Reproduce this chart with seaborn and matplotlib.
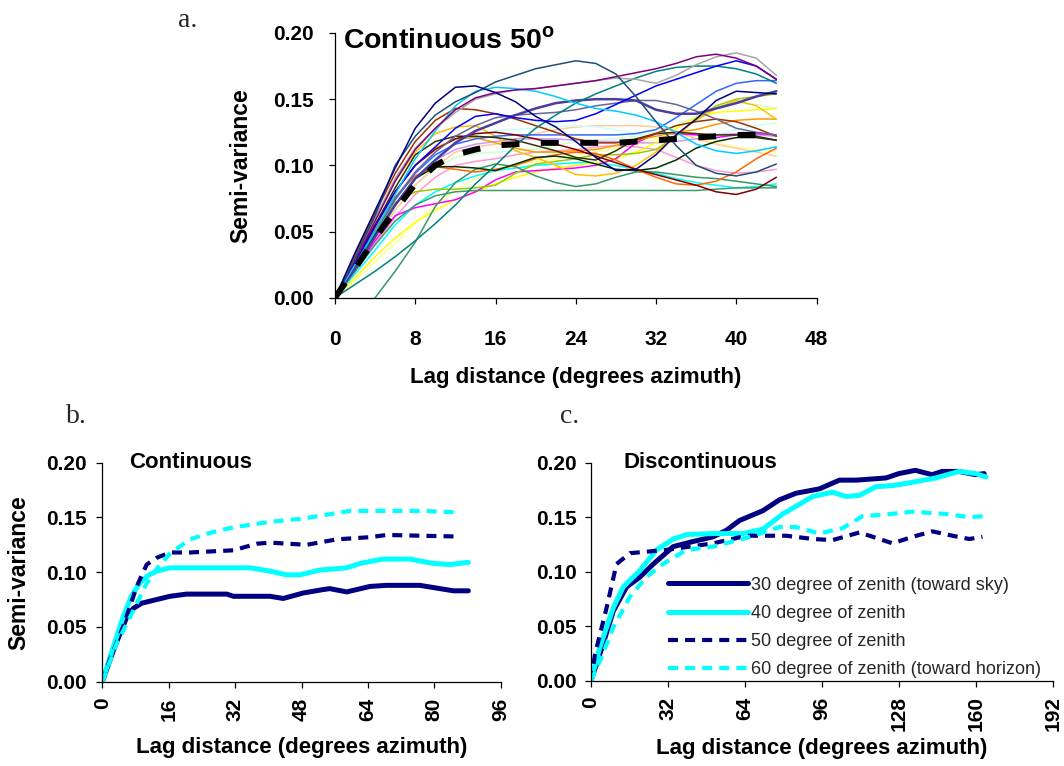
import numpy as np
import pandas as pd
import matplotlib
matplotlib.use("Agg")
import matplotlib.pyplot as plt
import seaborn as sns
from matplotlib.ticker import FormatStrFormatter

sns.set_theme(style="ticks")
plt.rcParams['font.family'] = ['Liberation Sans', 'DejaVu Sans']
plt.rcParams['font.weight'] = 'bold'
plt.rcParams['mathtext.fontset'] = 'custom'
plt.rcParams['mathtext.rm'] = 'Liberation Sans:bold'
plt.rcParams['mathtext.bf'] = 'Liberation Sans:bold'

# ---------------- Panel a data (Continuous 50 deg, individual semivariograms) ----------------
lag_a = [0, 2, 4, 6, 8, 10, 12, 14, 16, 18, 20, 22, 24, 26, 28, 30, 32, 34, 36, 38, 40, 42, 44]
sv_navy = [0, .034, .066, .098, .128, .147, .159, .160, .155, .148, .137, .129, .118, .106, .096, .097, .108, .123, .135, .149, .156, .155, .154]
sv_steel = [0, .030, .062, .100, .122, .138, .148, .155, .163, .168, .173, .176, .179, .177, .169, .152, .133, .115, .100, .094, .092, .095, .101]
sv_purple = [0, .028, .058, .088, .112, .128, .142, .151, .155, .157, .158, .160, .162, .164, .167, .170, .173, .177, .182, .184, .181, .175, .165]
sv_gray = [0, .030, .060, .090, .113, .128, .140, .150, .154, .157, .158, .160, .162, .164, .166, .165, .162, .168, .176, .182, .185, .181, .168]
sv_teal = [0, .010, .020, .031, .043, .056, .070, .086, .100, .115, .128, .138, .147, .154, .160, .166, .171, .174, .175, .175, .173, .169, .162]
sv_blue = [0, .026, .054, .080, .100, .114, .128, .137, .139, .136, .134, .133, .134, .139, .146, .153, .160, .165, .170, .175, .179, .175, .165]
sv_cyan = [0, .025, .050, .078, .105, .126, .145, .156, .159, .158, .156, .152, .147, .143, .141, .138, .133, .125, .116, .111, .109, .111, .114]
sv_brown = [0, .032, .064, .094, .118, .134, .143, .142, .139, .135, .130, .125, .120, .117, .117, .119, .124, .130, .133, .135, .133, .128, .122]
sv_darkred = [0, .028, .055, .080, .100, .112, .120, .124, .125, .123, .120, .116, .112, .107, .102, .097, .093, .089, .085, .080, .078, .082, .091]
sv_slate = [0, .022, .046, .070, .090, .104, .117, .126, .132, .138, .143, .147, .149, .150, .150, .149, .142, .139, .139, .143, .147, .152, .156]
sv_grayblue = [0, .025, .050, .075, .095, .110, .122, .130, .136, .138, .139, .140, .142, .145, .147, .149, .149, .146, .141, .135, .128, .125, .123]
sv_olive = [0, .027, .055, .083, .108, .118, .122, .122, .121, .119, .115, .111, .106, .104, .111, .120, .124, .125, .124, .123, .123, .122, .119]
sv_dkgreen = [0, .024, .048, .070, .090, .099, .099, .098, .096, .101, .106, .107, .105, .101, .097, .096, .098, .104, .113, .118, .121, .121, .119]
sv_orange = [0, .026, .052, .076, .092, .099, .097, .095, .097, .100, .105, .108, .110, .109, .104, .097, .091, .086, .085, .088, .095, .105, .113]
sv_amber = [0, .027, .054, .080, .100, .113, .120, .121, .117, .113, .110, .110, .111, .112, .115, .119, .122, .125, .127, .131, .134, .135, .135]
sv_gold = [0, .030, .060, .088, .110, .124, .129, .130, .122, .111, .106, .100, .093, .092, .094, .100, .110, .123, .134, .143, .149, .145, .135]
sv_yellow = [0, .015, .031, .045, .057, .066, .074, .080, .086, .091, .095, .098, .100, .102, .105, .110, .117, .128, .136, .140, .141, .142, .143]
sv_magenta = [0, .021, .043, .062, .068, .071, .074, .080, .089, .095, .096, .097, .098, .100, .105, .117, .124, .124, .123, .121, .123, .124, .123]
sv_lime = [0, .025, .050, .072, .080, .082, .082, .083, .085, .094, .101, .103, .105, .108, .108, .109, .112, .122, .135, .145, .150, .152, .154]
lag_a_late = [4, 6, 8, 10, 12, 14, 16, 18, 20, 22, 24, 26, 28, 30, 32, 34, 36, 38, 40, 42, 44]
sv_seagreen = [0, .020, .042, .069, .087, .097, .101, .099, .092, .087, .084, .086, .091, .095, .095, .093, .091, .090, .088, .086, .084]
sv_flatgreen = [0, .020, .040, .058, .070, .077, .080, .081, .081, .081, .081, .081, .081, .081, .081, .081, .081, .081, .081, .082, .083, .083, .083]
sv_cornflower = [0, .025, .050, .074, .094, .108, .116, .120, .122, .123, .123, .123, .123, .123, .123, .124, .127, .136, .146, .156, .162, .164, .164]
sv_palecyan = [0, .024, .048, .070, .090, .106, .118, .123, .126, .127, .128, .129, .130, .129, .127, .124, .122, .120, .120, .123, .127, .130, .132]
sv_peach = [0, .022, .045, .066, .085, .099, .110, .114, .116, .120, .124, .127, .129, .130, .130, .130, .129, .126, .120, .116, .113, .110, .107]
sv_pink = [0, .020, .041, .061, .078, .091, .100, .103, .105, .108, .110, .111, .112, .114, .115, .114, .112, .106, .100, .096, .094, .095, .097]
sv_lavender = [0, .024, .048, .070, .090, .104, .112, .116, .118, .120, .120, .120, .119, .118, .118, .117, .117, .118, .120, .123, .124, .123, .122]
sv_lightyellow = [0, .013, .027, .041, .056, .070, .081, .090, .096, .100, .103, .105, .108, .110, .113, .116, .120, .123, .121, .117, .114, .112, .110]
sv_palegreen = [0, .022, .045, .066, .085, .098, .106, .109, .110, .111, .112, .115, .118, .119, .120, .122, .125, .130, .137, .144, .147, .146, .143]
sv_skyblue = [0, .018, .036, .055, .070, .080, .087, .092, .096, .098, .100, .101, .102, .102, .100, .097, .094, .090, .087, .085, .083, .084, .086]
sv_mean = [0, .022, .045, .066, .086, .100, .108, .112, .115, .116, .117, .117, .117, .117, .117, .118, .119, .120, .121, .122, .123, .123, .122]

# ---------------- Panel b data (Continuous) ----------------
lag_b_30 = [0, 3, 6, 7.5, 9.5, 16.3, 20.3, 30, 31.6, 40.4, 43.6, 48.4, 53, 54.8, 58.9, 64.5, 68.5, 76.5, 84.6, 88.2]
sv_b_30 = [0, .032, .060, .067, .0717, .078, .080, .080, .078, .078, .076, .081, .084, .085, .082, .087, .088, .088, .083, .083]
lag_b_40 = [0, 2.5, 5, 7, 9, 11, 13.1, 16.3, 35.6, 40.4, 44.4, 47.6, 52.5, 58.9, 62.1, 67.6, 74.1, 79.8, 83.8, 88.2]
sv_b_40 = [0, .030, .059, .078, .090, .097, .101, .104, .104, .101, .0976, .0976, .102, .104, .108, .112, .112, .108, .107, .109]
lag_b_50 = [0, 1.8, 5, 8.3, 10.7, 13, 16.3, 21.1, 31.6, 37.2, 40.4, 49.2, 56.5, 64.5, 68.5, 85.4]
sv_b_50 = [0, .020, .050, .087, .107, .113, .118, .118, .120, .126, .127, .125, .130, .132, .134, .1326]
lag_b_60 = [0, 3.5, 6.7, 10.7, 13.5, 16.3, 21.1, 26, 31.6, 40.4, 48.4, 56.5, 59.7, 77.3, 85.4]
sv_b_60 = [0, .035, .059, .090, .105, .117, .130, .136, .141, .146, .149, .154, .156, .156, .1546]

# ---------------- Panel c data (Discontinuous) ----------------
lag_c_30 = [0, 3.7, 9.3, 14.8, 20.3, 25.9, 34.2, 41.1, 50.8, 56.3, 61.8, 71.5, 78.4, 85.3, 95, 103.3, 110.2, 122.7, 128, 134.9, 141.8, 146, 152.8, 160, 163.5]
sv_c_30 = [0, .0245, .064, .086, .095, .107, .123, .127, .132, .138, .147, .156, .166, .172, .176, .184, .184, .186, .190, .193, .189, .192, .192, .189, .190]
lag_c_40 = [0, 3.7, 9.3, 13.4, 20.3, 27.2, 34.2, 39.7, 50.8, 63.2, 71.5, 79.8, 92.2, 100.5, 106, 111.6, 118.5, 125.4, 133.7, 143.4, 153, 160, 164.2]
sv_c_40 = [0, .031, .067, .086, .101, .120, .130, .134, .135, .135, .139, .153, .169, .173, .169, .170, .178, .179, .182, .186, .192, .190, .187]
lag_c_50 = [0, 1.7, 6.5, 10.6, 16.2, 31.4, 50.8, 64.6, 81.2, 92.3, 100.5, 111.6, 117.2, 125.4, 133.7, 142, 150.3, 157.3, 162.8]
sv_c_50 = [0, .0245, .067, .107, .117, .120, .126, .133, .133, .130, .129, .136, .132, .126, .132, .137, .133, .130, .132]
lag_c_60 = [0, 3.7, 9.3, 16.2, 23, 29.9, 39.7, 50.8, 64.6, 78.4, 85.3, 95, 104.7, 113, 119.9, 133.7, 147.6, 157.3, 163.5]
sv_c_60 = [0, .018, .049, .077, .095, .107, .120, .123, .131, .141, .141, .135, .140, .151, .152, .155, .153, .150, .151]

legend_labels = ["30 degree of zenith (toward sky)", "40 degree of zenith",
                 "50 degree of zenith", "60 degree of zenith (toward horizon)"]
xlabel_text = "Lag distance (degrees azimuth)"
ylabel_text = "Semi-variance"

# ---------------- Figure ----------------
fig = plt.figure(figsize=(10.64, 7.66), dpi=100)
fig.patch.set_facecolor("white")

W, H = 1064.0, 766.0
def box(x0, y_top, x1, y_bot):
    return [x0 / W, 1 - y_bot / H, (x1 - x0) / W, (y_bot - y_top) / H]

ax_a = fig.add_axes(box(335, 33, 816.5, 297.7))
ax_b = fig.add_axes(box(102.3, 462.7, 500.7, 681.7))
ax_c = fig.add_axes(box(591, 462.7, 1052.7, 680.7))

thin = 1.1
series_a = [
    (lag_a, sv_lightyellow, "#ffff99"), (lag_a, sv_palegreen, "#ccffcc"),
    (lag_a, sv_peach, "#ffcc99"), (lag_a, sv_palecyan, "#ccffff"),
    (lag_a, sv_pink, "#ff99cc"), (lag_a, sv_lavender, "#cc99ff"),
    (lag_a, sv_skyblue, "#00ffff"), (lag_a, sv_yellow, "#ffff00"),
    (lag_a, sv_magenta, "#ff00ff"), (lag_a, sv_lime, "#99cc00"),
    (lag_a_late, sv_seagreen, "#339966"), (lag_a, sv_flatgreen, "#3c9c6c"),
    (lag_a, sv_orange, "#ff6600"), (lag_a, sv_amber, "#ff9900"),
    (lag_a, sv_gold, "#ffc000"), (lag_a, sv_cornflower, "#3366ff"),
    (lag_a, sv_dkgreen, "#003300"), (lag_a, sv_olive, "#333300"),
    (lag_a, sv_darkred, "#800000"), (lag_a, sv_brown, "#993300"),
    (lag_a, sv_grayblue, "#666699"), (lag_a, sv_slate, "#4b3d9e"),
    (lag_a, sv_teal, "#008080"), (lag_a, sv_blue, "#0000ff"),
    (lag_a, sv_cyan, "#00ccff"), (lag_a, sv_gray, "#a6a6a6"),
    (lag_a, sv_purple, "#800080"), (lag_a, sv_steel, "#1f4e79"),
    (lag_a, sv_navy, "#000080"),
]
for xs, ys, col in series_a:
    lw = 1.8 if col == "#4b3d9e" else thin
    sns.lineplot(x=xs, y=ys, ax=ax_a, color=col, linewidth=lw,
                 estimator=None, sort=False, legend=False)
sns.lineplot(x=lag_a, y=sv_mean, ax=ax_a, color="black", linewidth=4.3,
             linestyle=(0, (3.0, 3.6)), estimator=None, sort=False, legend=False)

navy, cyan = "#000080", "#00ffff"
styles = [(navy, "-", 3.6), (cyan, "-", 3.6), (navy, (0, (2.4, 1.7)), 3.0), (cyan, (0, (2.4, 1.7)), 3.0)]

for xs, ys, (col, ls, lw) in zip([lag_b_30, lag_b_40, lag_b_50, lag_b_60],
                                 [sv_b_30, sv_b_40, sv_b_50, sv_b_60], styles):
    sns.lineplot(x=xs, y=ys, ax=ax_b, color=col, linestyle=ls, linewidth=lw,
                 estimator=None, sort=False, legend=False)

for xs, ys, (col, ls, lw), lab in zip([lag_c_30, lag_c_40, lag_c_50, lag_c_60],
                                      [sv_c_30, sv_c_40, sv_c_50, sv_c_60], styles, legend_labels):
    sns.lineplot(x=xs, y=ys, ax=ax_c, color=col, linestyle=ls, linewidth=lw,
                 estimator=None, sort=False, label=lab)

# ---------------- Axes styling ----------------
def style_axes(ax, xmax, xstep, rot, xpad, ypad):
    ax.set_xlim(0, xmax)
    ax.set_ylim(0, 0.20)
    ax.set_xticks(np.arange(0, xmax + 1, xstep))
    ax.set_yticks(np.arange(0, 0.2001, 0.05))
    ax.yaxis.set_major_formatter(FormatStrFormatter("%.2f"))
    ax.xaxis.set_major_formatter(FormatStrFormatter("%d"))
    sns.despine(ax=ax)
    for sp in ["left", "bottom"]:
        ax.spines[sp].set_color("black")
        ax.spines[sp].set_linewidth(0.9)
    ax.tick_params(axis="both", direction="out", length=4.2, width=0.9,
                   color="black", labelsize=15, labelcolor="black")
    ax.tick_params(axis="x", pad=xpad, labelrotation=rot)
    ax.tick_params(axis="y", pad=ypad)
    ax.set_facecolor("white")
    ax.grid(False)

style_axes(ax_a, 48, 8, 0, 19, 11)
style_axes(ax_b, 96, 16, 90, 7, 7)
style_axes(ax_c, 192, 32, 90, 7, 6)

ax_a.set_xlabel(xlabel_text, fontsize=16, fontweight="bold", labelpad=13, color="black")
ax_a.set_ylabel(ylabel_text, fontsize=16.5, fontweight="bold", labelpad=15, color="black")
ax_b.set_xlabel(xlabel_text, fontsize=16, fontweight="bold", labelpad=12, color="black")
ax_b.set_ylabel(ylabel_text, fontsize=16.5, fontweight="bold", labelpad=11, color="black")
ax_c.set_xlabel(xlabel_text, fontsize=16, fontweight="bold", labelpad=5, color="black")
ax_c.set_ylabel("")

ax_a.text(0.8, 0.194, r"Continuous 50$^{\mathregular{o}}$", fontsize=20.5, fontweight="bold",
          va="center", ha="left", color="black")
ax_b.text(6.4, 0.200, "Continuous", fontsize=16, fontweight="bold", va="center", ha="left", color="black")
ax_c.text(13.4, 0.200, "Discontinuous", fontsize=16, fontweight="bold", va="center", ha="left", color="black")

leg = ax_c.legend(loc="lower left", bbox_to_anchor=(0.148, -0.03), frameon=False,
                  borderpad=0, handlelength=4.4, handletextpad=0.15, labelspacing=0.62,
                  prop={"family": "Liberation Sans", "weight": "normal", "size": 13})

serif = {"family": "Liberation Serif", "weight": "normal", "size": 20}
fig.text(178 / W, 1 - 27 / H, "a.", ha="left", va="baseline", fontdict=serif)
fig.text(66 / W, 1 - 423 / H, "b.", ha="left", va="baseline", fontdict=serif)
fig.text(560 / W, 1 - 423 / H, "c.", ha="left", va="baseline", fontdict=serif)

fig.savefig("out.png", dpi=100, facecolor="white")
